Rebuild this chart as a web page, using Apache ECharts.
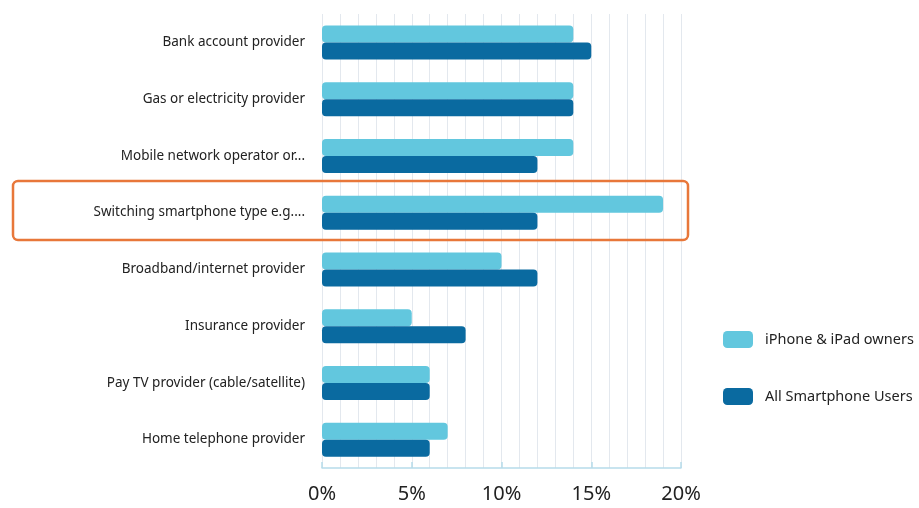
<!DOCTYPE html>
<html>
<head>
<meta charset="utf-8">
<script src="https://cdn.jsdelivr.net/npm/echarts@6/dist/echarts.min.js"></script>
<style>
  html, body { margin: 0; padding: 0; background: #fff; }
  #chart { width: 919px; height: 508px; }
</style>
</head>
<body>
<div id="chart"></div>
<script>
// Categories, top to bottom
const categories = [
    'Bank account provider',
    'Gas or electricity provider',
    'Mobile network operator or...',
    'Switching smartphone type e.g....',
    'Broadband/internet provider',
    'Insurance provider',
    'Pay TV provider (cable/satellite)',
    'Home telephone provider'
];

// Percent values
const iphoneOwners = [14, 14, 14, 19, 10, 5, 6, 7];
const allSmartphone = [15, 14, 12, 12, 12, 8, 6, 6];

const seriesNames = ['iPhone & iPad owners', 'All Smartphone Users'];
const xTicks = [0, 5, 10, 15, 20];

const LIGHT = '#62c7de';
const DARK = '#0a6aa0';
const FONT = '"Noto Sans", "Open Sans", sans-serif';

const chart = echarts.init(document.getElementById('chart'));

chart.setOption({
    animation: false,
    textStyle: { fontFamily: FONT },
    grid: { left: 322, right: 238, top: 14, bottom: 40 },
    legend: {
        orient: 'vertical',
        left: 718,
        top: 326,
        itemWidth: 30,
        itemHeight: 17,
        itemGap: 40,
        icon: 'roundRect',
        textStyle: { fontSize: 14.5, color: '#222', fontFamily: FONT, padding: [0, 0, 0, 7] },
        data: seriesNames
    },
    xAxis: {
        type: 'value',
        min: xTicks[0],
        max: xTicks[xTicks.length - 1],
        interval: 5,
        axisLine: { show: true, lineStyle: { color: '#b6dcea', width: 1.5 } },
        axisTick: { show: true, inside: true, length: 6, lineStyle: { color: '#b6dcea', width: 1.5 } },
        axisLabel: { formatter: '{value}%', fontSize: 20, color: '#222', margin: 16, fontFamily: FONT },
        splitLine: { show: true, lineStyle: { color: '#e3e8ee', width: 1 } },
        minorTick: { show: false, splitNumber: 5 },
        minorSplitLine: { show: true, lineStyle: { color: '#e3e8ee', width: 1 } }
    },
    yAxis: {
        type: 'category',
        inverse: true,
        data: categories,
        axisLine: { show: false },
        axisTick: { show: false },
        axisLabel: { fontSize: 13.5, color: '#222', margin: 17, fontFamily: FONT }
    },
    series: [
        {
            name: seriesNames[0],
            type: 'bar',
            data: iphoneOwners,
            barWidth: 17,
            barGap: '0%',
            itemStyle: { color: LIGHT, borderRadius: 4 }
        },
        {
            name: seriesNames[1],
            type: 'bar',
            data: allSmartphone,
            barWidth: 17,
            barGap: '0%',
            itemStyle: { color: DARK, borderRadius: 4 }
        }
    ],
    graphic: [{
        type: 'rect',
        shape: { x: 13, y: 181, width: 675, height: 59, r: 5 },
        style: { fill: 'none', stroke: '#e8773a', lineWidth: 2.5 },
        z: 10
    }]
});
</script>
</body>
</html>
